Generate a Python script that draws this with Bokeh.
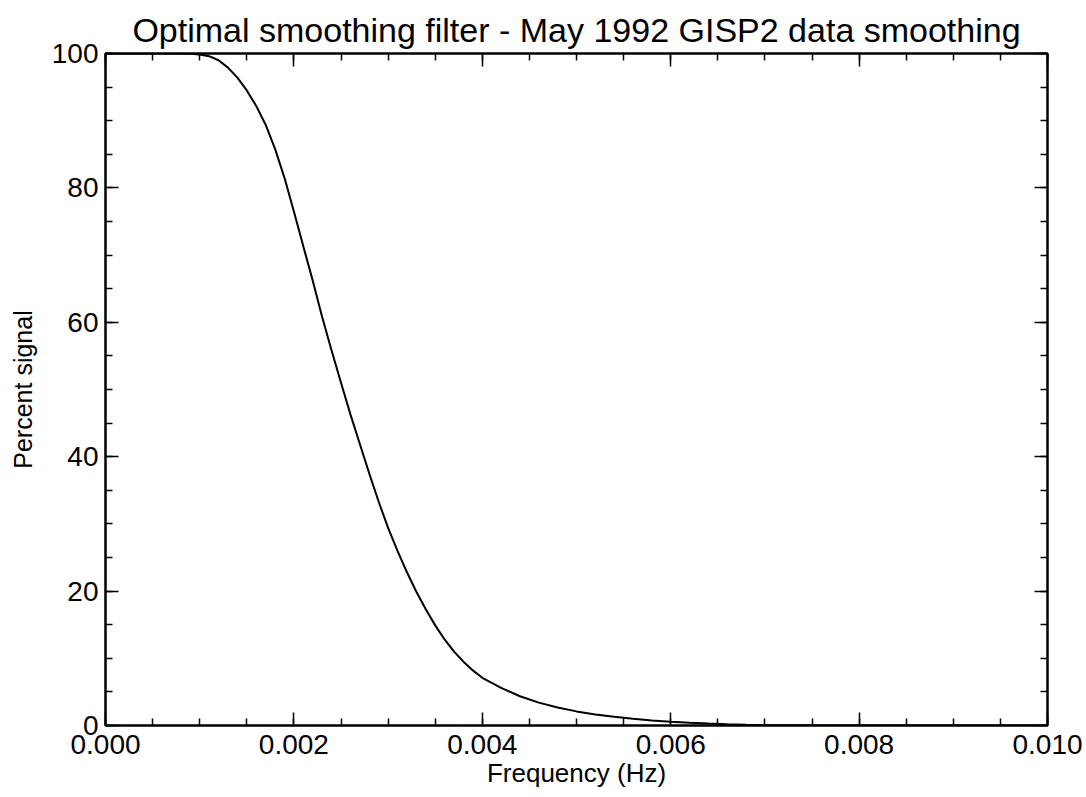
from bokeh.plotting import figure
from bokeh.models import Range1d, SingleIntervalTicker, PrintfTickFormatter, LinearAxis
from bokeh.embed import file_html
from bokeh.resources import INLINE

# Data
freq_hz = [0.0, 0.0005, 0.0008, 0.0009, 0.0010, 0.0011, 0.0012, 0.0013, 0.0014, 0.0015,
           0.0016, 0.0017, 0.0018, 0.0019, 0.0020, 0.0021, 0.0022, 0.0023, 0.0024,
           0.0025, 0.0026, 0.0027, 0.0028, 0.0029, 0.0030, 0.0031, 0.0032, 0.0033,
           0.0034, 0.0035, 0.0036, 0.0037, 0.0038, 0.0039, 0.0040, 0.0042, 0.0044,
           0.0046, 0.0048, 0.0050, 0.0052, 0.0054, 0.0056, 0.0058, 0.0060, 0.0062,
           0.0064, 0.0066, 0.0068, 0.0070, 0.0075, 0.0080, 0.0090, 0.0100]
percent_signal = [100.0, 100.0, 100.0, 99.95, 99.85, 99.6, 99.0, 97.9, 96.4, 94.5,
                  92.2, 89.4, 85.8, 81.5, 76.5, 71.3, 66.2, 60.8, 55.8,
                  51.0, 46.3, 41.9, 37.5, 33.3, 29.4, 26.0, 22.8, 19.9,
                  17.3, 14.9, 12.8, 11.0, 9.5, 8.2, 7.1, 5.6, 4.35,
                  3.4, 2.68, 2.1, 1.65, 1.3, 1.0, 0.75, 0.55, 0.4,
                  0.28, 0.18, 0.11, 0.07, 0.03, 0.01, 0.0, 0.0]

title_text = "Optimal smoothing filter - May 1992 GISP2 data smoothing"
x_label = "Frequency (Hz)"
y_label = "Percent signal"

FONT = "Liberation Sans"

p = figure(width=1086, height=797, x_range=Range1d(0, 0.010), y_range=Range1d(0, 100),
           output_backend="svg", toolbar_location=None,
           min_border_left=105, min_border_right=39, min_border_top=53, min_border_bottom=72,
           title=title_text, x_axis_label=x_label, y_axis_label=y_label)

p.title.text_font = FONT
p.title.text_font_size = "34px"
p.title.text_font_style = "normal"
p.title.align = "center"
p.title.text_color = "black"

p.xgrid.visible = False
p.ygrid.visible = False
p.outline_line_color = "black"
p.outline_line_width = 2
p.background_fill_color = "white"
p.border_fill_color = "white"

def style_axis(ax, show_labels):
    ax.axis_line_color = "black"
    ax.axis_line_width = 2
    ax.major_tick_line_color = "black"
    ax.minor_tick_line_color = "black"
    ax.major_tick_line_width = 1.5
    ax.minor_tick_line_width = 1.5
    ax.major_tick_in = 13
    ax.major_tick_out = 0
    ax.minor_tick_in = 7
    ax.minor_tick_out = 0
    ax.major_label_text_font = FONT
    ax.major_label_text_color = "black"
    ax.axis_label_text_font = FONT
    ax.axis_label_text_font_style = "normal"
    ax.axis_label_text_color = "black"
    if not show_labels:
        ax.major_label_text_color = None
        ax.major_label_text_alpha = 0
        ax.major_label_text_font_size = "1px"
        ax.major_label_standoff = 0

p.xaxis.ticker = SingleIntervalTicker(interval=0.002, num_minor_ticks=4)
p.yaxis.ticker = SingleIntervalTicker(interval=20, num_minor_ticks=4)
p.xaxis.formatter = PrintfTickFormatter(format="%.3f")
for ax in p.xaxis + p.yaxis:
    style_axis(ax, True)
p.xaxis.major_label_text_font_size = "28px"
p.yaxis.major_label_text_font_size = "28px"
p.xaxis.axis_label_text_font_size = "26px"
p.yaxis.axis_label_text_font_size = "25px"
p.xaxis.major_label_standoff = 9
p.yaxis.major_label_standoff = 7
p.xaxis.axis_label_standoff = 1
p.yaxis.axis_label_standoff = 12

top_ax = LinearAxis(ticker=SingleIntervalTicker(interval=0.002, num_minor_ticks=4))
right_ax = LinearAxis(ticker=SingleIntervalTicker(interval=20, num_minor_ticks=4))
style_axis(top_ax, False)
style_axis(right_ax, False)
p.add_layout(top_ax, "above")
p.add_layout(right_ax, "right")

p.line(freq_hz, percent_signal, line_color="black", line_width=2)

open("out.html", "w").write(file_html(p, INLINE))
